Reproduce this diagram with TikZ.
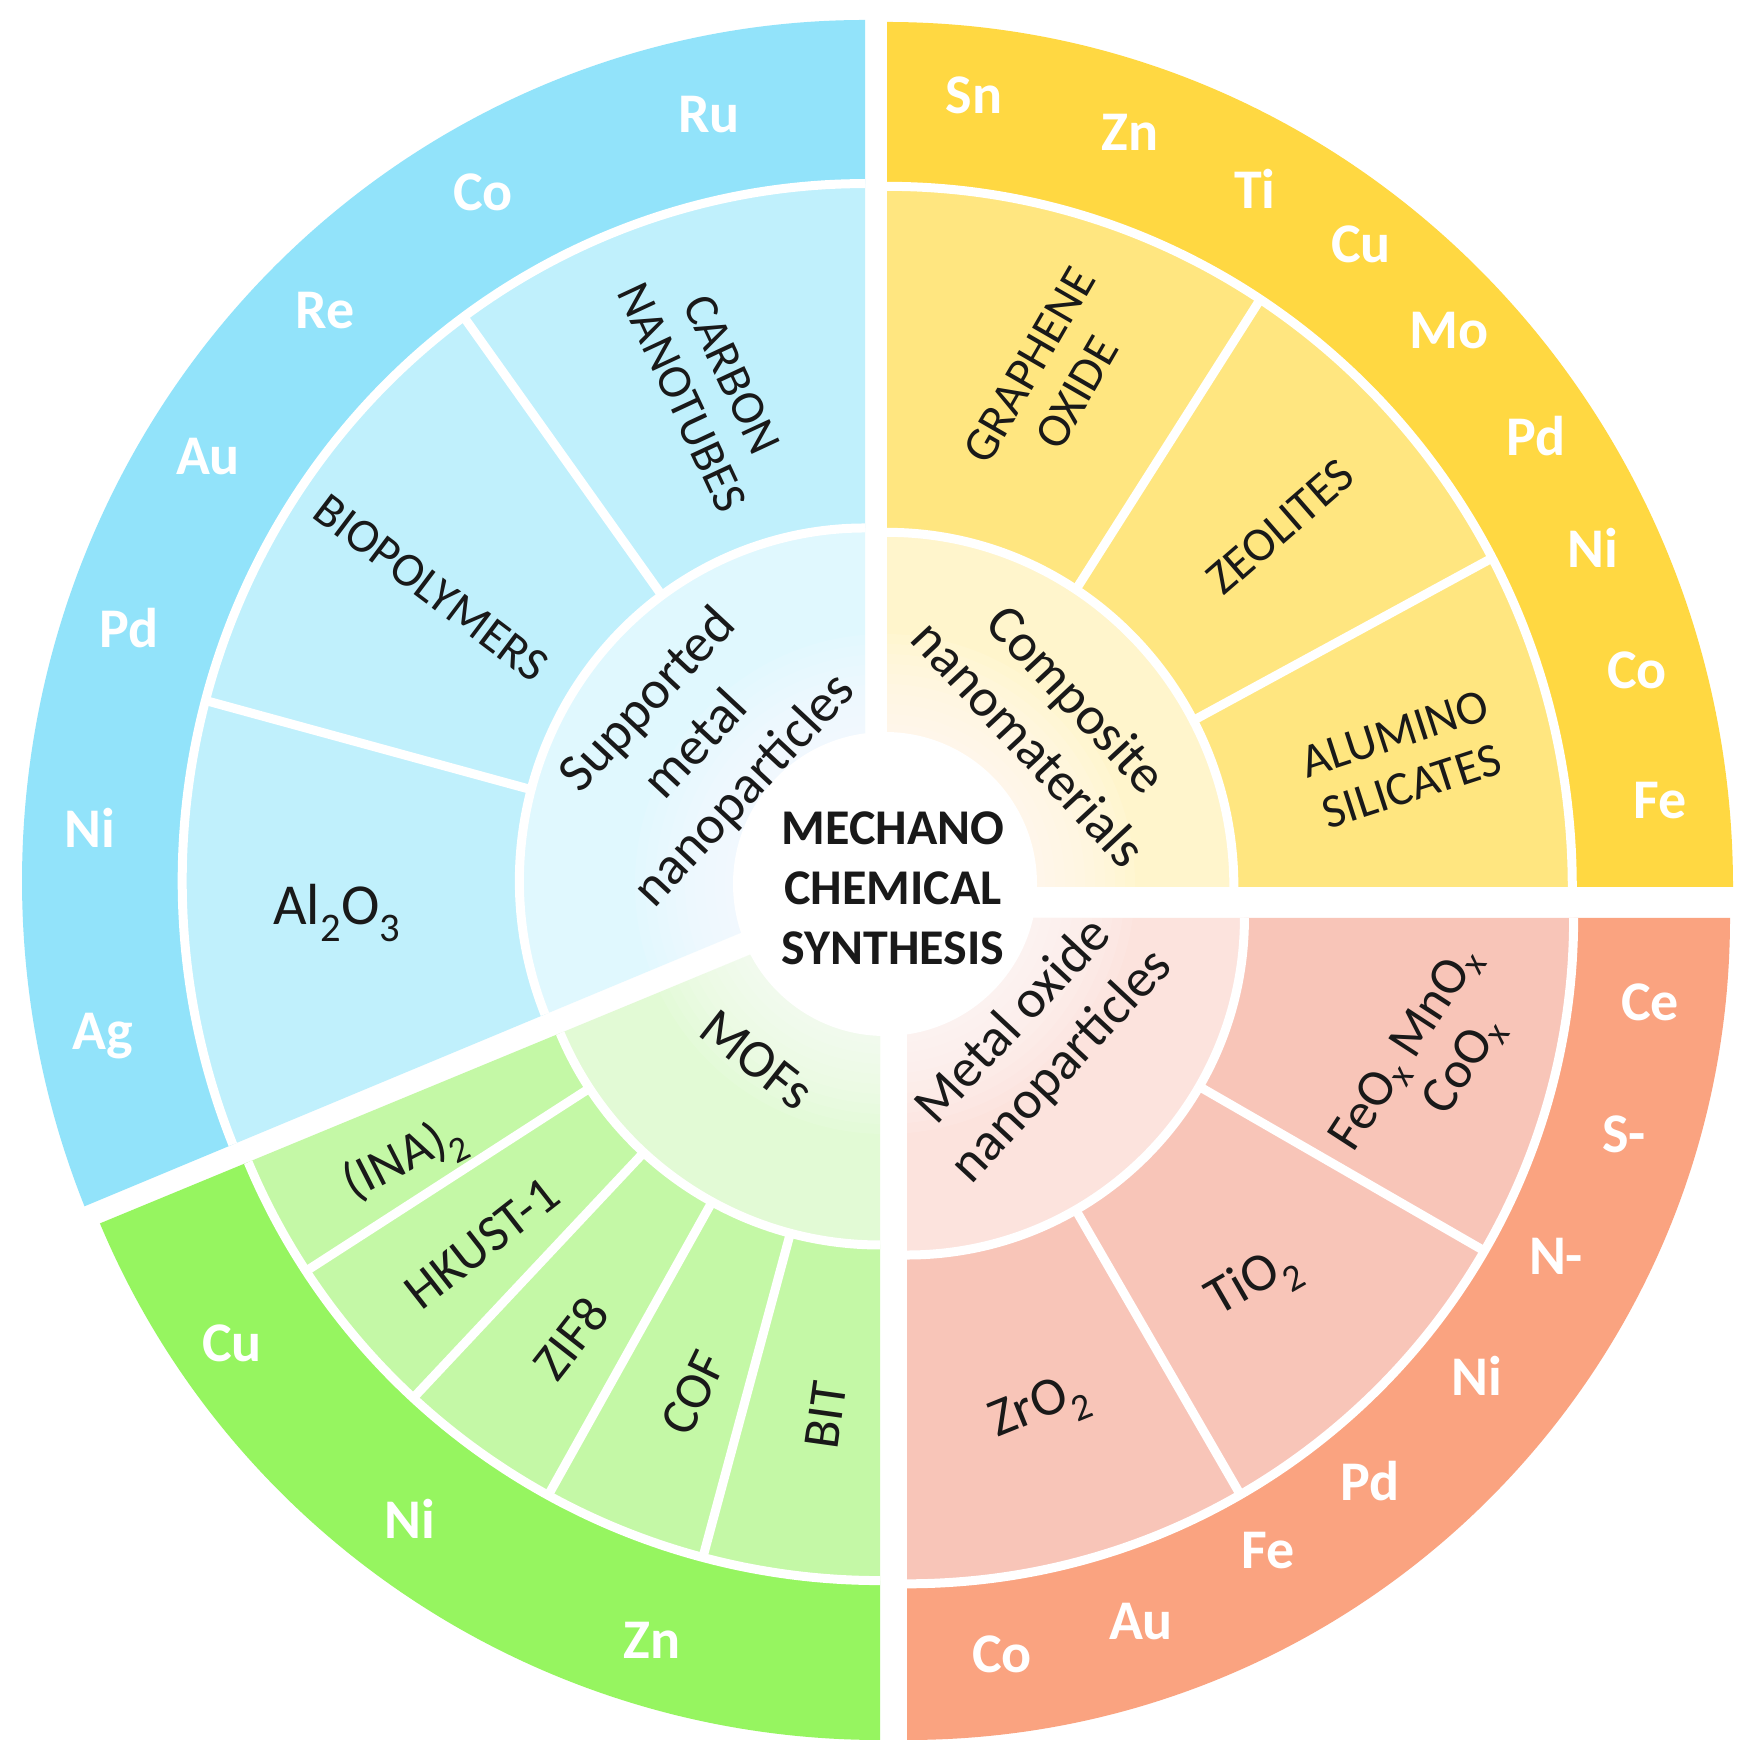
\documentclass[tikz,border=0pt]{standalone}
\usepackage{fontspec}
\setmainfont{Carlito}
\definecolor{bO}{RGB}{146,227,250}
\definecolor{bM}{RGB}{192,240,252}
\definecolor{bI}{RGB}{224,248,254}
\definecolor{yO}{RGB}{255,216,66}
\definecolor{yM}{RGB}{255,230,128}
\definecolor{yI}{RGB}{255,245,204}
\definecolor{sO}{RGB}{250,163,128}
\definecolor{sM}{RGB}{248,197,184}
\definecolor{sI}{RGB}{252,227,221}
\definecolor{gO}{RGB}{150,245,96}
\definecolor{gM}{RGB}{196,248,166}
\definecolor{gI}{RGB}{226,250,213}
\definecolor{txt}{RGB}{25,25,25}
\newcommand{\pieseg}[4]{\fill[#1] (0,0) -- (#2:#4) arc[start angle=#2,end angle=#3,radius=#4] -- cycle;}
\newcommand{\ringseg}[5]{\fill[#1] (#2:#5) arc[start angle=#2,end angle=#3,radius=#5] -- (#3:#4) arc[start angle=#3,end angle=#2,radius=#4] -- cycle;}
\newcommand{\ringline}[3]{\draw[sep] (#1:#3) arc[start angle=#1,end angle=#2,radius=#3];}
\newcommand{\spoke}[1]{\draw[sep] (#1:0.41) -- (#1:0.81);}
\begin{document}
\begin{tikzpicture}[x=1pt,y=1pt,
  sep/.style={draw=white, line width=9pt},
  metal/.style={text=white, font=\bfseries\fontsize{56}{60}\selectfont, inner sep=0pt},
  cat/.style={text=txt, font=\fontsize{54}{66}\selectfont, align=center, inner sep=0pt},
  sub/.style={text=txt, font=\fontsize{48}{55}\selectfont, align=center, inner sep=0pt},
  mof/.style={text=txt, font=\fontsize{52}{60}\selectfont, inner sep=0pt},
  ]
\useasboundingbox (0,0) rectangle (1748,1756);
\fill[white] (0,0) rectangle (1748,1756);

% blue quadrant
\begin{scope}[shift={(865,875)}, xscale=843, yscale=861]
 \pieseg{bI}{90}{202.2}{0.41}
 \ringseg{bM}{90}{202.2}{0.41}{0.81}
 \ringseg{bO}{90}{202.2}{0.81}{1}
 \ringline{90}{202.2}{0.41}
 \ringline{90}{202.2}{0.81}
 \spoke{126}\spoke{165}
\end{scope}
% yellow quadrant
\begin{scope}[shift={(887,869)}, xscale=846, yscale=865]
 \pieseg{yI}{0}{90}{0.41}
 \ringseg{yM}{0}{90}{0.41}{0.81}
 \ringseg{yO}{0}{90}{0.81}{1}
 \ringline{0}{90}{0.41}
 \ringline{0}{90}{0.81}
 \spoke{28}\spoke{57}
\end{scope}
% salmon quadrant
\begin{scope}[shift={(907,838)}, xscale=823, yscale=822]
 \pieseg{sI}{-90}{0}{0.41}
 \ringseg{sM}{-90}{0}{0.41}{0.81}
 \ringseg{sO}{-90}{0}{0.81}{1}
 \ringline{-90}{0}{0.41}
 \ringline{-90}{0}{0.81}
 \spoke{-30}\spoke{-60}
\end{scope}
% green quadrant
\begin{scope}[shift={(880,855)}, xscale=845, yscale=839]
 \pieseg{gI}{202.6}{270}{0.41}
 \ringseg{gM}{202.6}{270}{0.41}{0.81}
 \ringseg{gO}{202.6}{270}{0.81}{1}
 \ringline{202.6}{270}{0.41}
 \ringline{202.6}{270}{0.81}
 \spoke{213}\spoke{227}\spoke{241}\spoke{255}
\end{scope}

% soft white centre
\coordinate (ctr) at (885,872);
\foreach \r in {250,240,...,160} {\fill[white,opacity=0.1] (ctr) circle[radius=\r];}
\fill[white] (ctr) circle[radius=152];

\node[font=\bfseries\fontsize{50}{60}\selectfont, align=center, text=txt, inner sep=0pt] (title) at (893,868) {MECHANO\\CHEMICAL\\SYNTHESIS};

% blue labels
\node[metal] (bRu) at (709,1641) {Ru};
\node[metal] (bCo) at (483,1564) {Co};
\node[metal] (bRe) at (325,1445) {Re};
\node[metal] (bAu) at (208,1299) {Au};
\node[metal] (bPd) at (129,1128) {Pd};
\node[metal] (bNi) at (90,928) {Ni};
\node[metal] (bAg) at (103,720) {Ag};
\node[sub, rotate=-65] (cnt) at (707,1370) {CARBON\\NANOTUBES};
\node[sub, rotate=-37] (bio) at (431,1168) {BIOPOLYMERS};
\node[text=txt, font=\fontsize{58}{66}\selectfont, inner sep=0pt] (alo) at (337,843) {Al\textsubscript{2}O\textsubscript{3}};
\node[cat, rotate=47] (smn) at (697,1010) {Supported\\metal\\nanoparticles};

% yellow labels
\node[metal] (ySn) at (974,1661) {Sn};
\node[metal] (yZn) at (1130,1624) {Zn};
\node[metal] (yTi) at (1255,1567) {Ti};
\node[metal] (yCu) at (1361,1512) {Cu};
\node[metal] (yMo) at (1449,1425) {Mo};
\node[metal] (yPd) at (1536,1320) {Pd};
\node[metal] (yNi) at (1593,1208) {Ni};
\node[metal] (yCo) at (1637,1086) {Co};
\node[metal] (yFe) at (1660,955) {Fe};
\node[sub, rotate=60] (gox) at (1053,1377) {GRAPHENE\\OXIDE};
\node[sub, rotate=41] (zeo) at (1280,1229) {ZEOLITES};
\node[sub, rotate=18] (alu) at (1403,996) {ALUMINO\\SILICATES};
\node[cat, rotate=-47] (cnm) at (1053,1035) {Composite\\nanomaterials};

% salmon labels
\node[metal] (sCe) at (1650,754) {Ce};
\node[metal] (sS) at (1624,622) {S-};
\node[metal] (sN) at (1556,500) {N-};
\node[metal] (sNi) at (1477,380) {Ni};
\node[metal] (sPd) at (1370,275) {Pd};
\node[metal] (sFe) at (1268,205) {Fe};
\node[metal] (sAu) at (1141,134) {Au};
\node[metal] (sCo) at (1002,102) {Co};
\node[cat, rotate=47] (mon) at (1038,712) {Metal oxide\\nanoparticles};
\node[mof, rotate=57] (femn) at (1407,707) {FeO\textsubscript{x} MnO\textsubscript{x}};
\node[mof, rotate=57] (coox) at (1465,690) {CoO\textsubscript{x}};
\node[cat, rotate=30] (tio) at (1254,472) {TiO\textsubscript{2}};
\node[cat, rotate=22] (zro) at (1040,346) {ZrO\textsubscript{2}};

% green labels
\node[metal] (gCu) at (232,413) {Cu};
\node[metal] (gNi) at (410,237) {Ni};
\node[metal] (gZn) at (652,116) {Zn};
\node[cat, rotate=-38] (mofs) at (757,696) {MOFs};
\node[mof, rotate=27] (ina) at (405,595) {(INA)\textsubscript{2}};
\node[mof, rotate=38] (hk) at (482,513) {HKUST-1};
\node[mof, rotate=52] (zif) at (571,418) {ZIF8};
\node[mof, rotate=64] (cof) at (693,363) {COF};
\node[mof, rotate=82] (bit) at (826,341) {BIT};
\end{tikzpicture}
\end{document}
